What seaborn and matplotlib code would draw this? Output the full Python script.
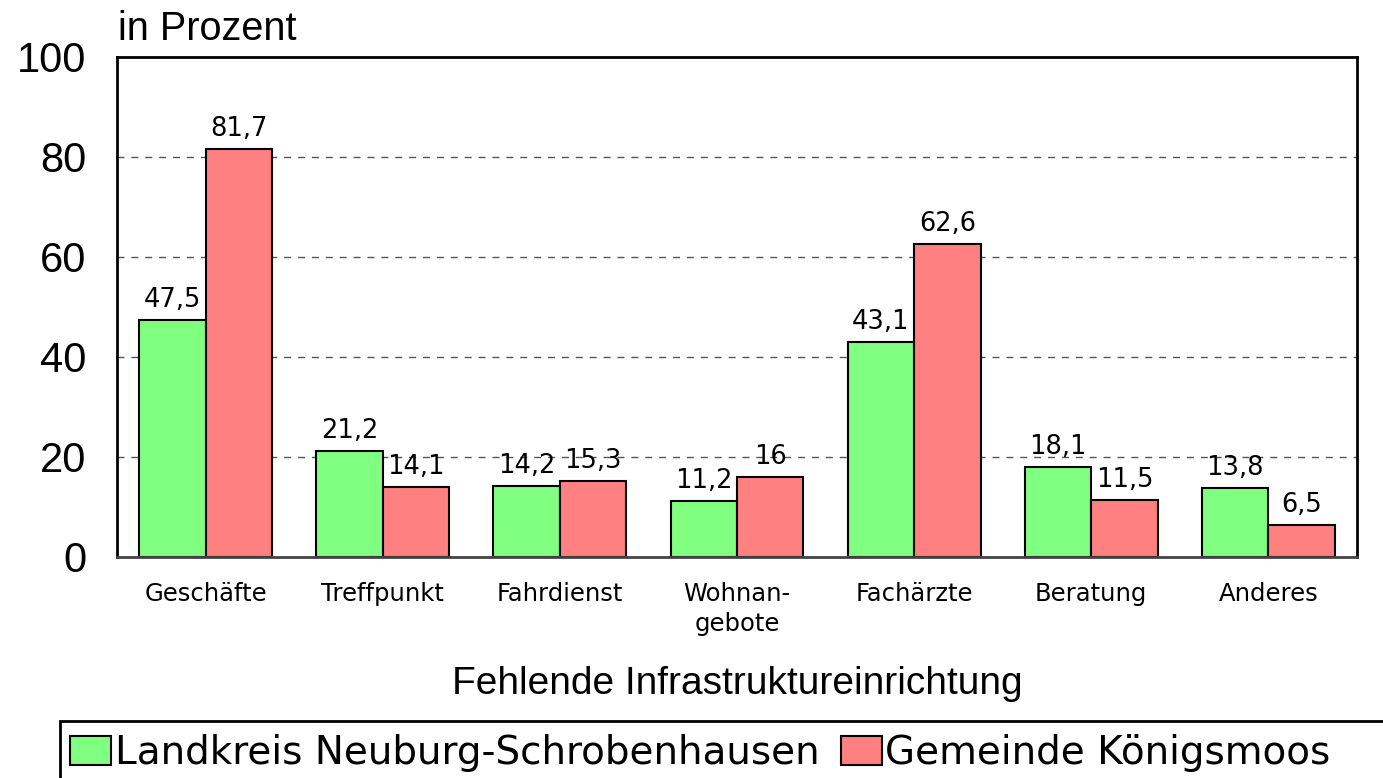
import matplotlib
matplotlib.use("Agg")
import matplotlib.pyplot as plt
from matplotlib.patches import Rectangle
import pandas as pd
import seaborn as sns

# Data
categories = ["Geschäfte", "Treffpunkt", "Fahrdienst", "Wohnan-\ngebote",
              "Fachärzte", "Beratung", "Anderes"]
landkreis = [47.5, 21.2, 14.2, 11.2, 43.1, 18.1, 13.8]
gemeinde = [81.7, 14.1, 15.3, 16.0, 62.6, 11.5, 6.5]
series_names = ["Landkreis Neuburg-Schrobenhausen", "Gemeinde Königsmoos"]
colors = ["#80FF80", "#FF8080"]

df = pd.DataFrame({
    "category": categories * 2,
    "value": landkreis + gemeinde,
    "series": [series_names[0]] * len(categories) + [series_names[1]] * len(categories),
})

sns.set_style("white")
plt.rcParams["font.family"] = ["DejaVu Sans"]
plt.rcParams["text.color"] = "black"
plt.rcParams["xtick.color"] = "black"
plt.rcParams["ytick.color"] = "black"
plt.rcParams["axes.labelcolor"] = "black"

fig = plt.figure(figsize=(13.83, 7.78), dpi=100)
ax = fig.add_axes([117 / 1383, 1 - 557 / 778, 1240 / 1383, 500 / 778])

sns.barplot(data=df, x="category", y="value", hue="series", order=categories,
            hue_order=series_names, palette=colors, width=0.75,
            edgecolor="black", linewidth=1.5, saturation=1, ax=ax)

# Value labels with German decimal comma
for cont in ax.containers:
    labels = [f"{v:g}".replace(".", ",") for v in cont.datavalues]
    ax.bar_label(cont, labels=labels, padding=5, fontsize=18.5, color="black")

ax.set_ylim(0, 100)
ax.set_xlim(-0.5, len(categories) - 0.5)
ax.set_yticks([0, 20, 40, 60, 80, 100])
ax.set_yticklabels(["0", "20", "40", "60", "80", "100"],
                   fontfamily="Liberation Sans", fontsize=30)
ax.tick_params(axis="y", length=0, pad=22)
ax.tick_params(axis="x", length=0, pad=18, labelsize=17.5)
for t in ax.get_xticklabels():
    t.set_linespacing(1.3)
    t.set_verticalalignment("top")

for y in [20, 40, 60, 80]:
    ax.axhline(y, color="#555555", linestyle=(0, (5, 5)), linewidth=1, zorder=0)
ax.set_axisbelow(True)

for side in ["left", "top", "right"]:
    ax.spines[side].set_color("black")
    ax.spines[side].set_linewidth(2)
ax.spines["bottom"].set_color("#444444")
ax.spines["bottom"].set_linewidth(2)

ax.set_ylabel("")
ax.set_xlabel("Fehlende Infrastruktureinrichtung", fontfamily="Liberation Sans",
              fontsize=28, labelpad=22)
fig.text(118 / 1383, 1 - 40 / 778, "in Prozent", fontfamily="Liberation Sans",
         fontsize=28.5, ha="left", va="baseline")

# Legend at the bottom, frame running past the figure edge
handles, labels = ax.get_legend_handles_labels()
ax.get_legend().remove()
fig.patches.append(Rectangle((60 / 1383, -0.05), 1.0, 0.05 + (778 - 721) / 778,
                             transform=fig.transFigure, fill=False,
                             edgecolor="black", linewidth=2))
fig.legend(handles, labels, loc="center left",
           bbox_to_anchor=(70 / 1383, 1 - 753 / 778), ncol=2, frameon=False,
           fontsize=28, handlelength=1.05, handleheight=0.75, handletextpad=0.1,
           columnspacing=0.55, borderaxespad=0, borderpad=0)

fig.savefig("out.png", dpi=100)
